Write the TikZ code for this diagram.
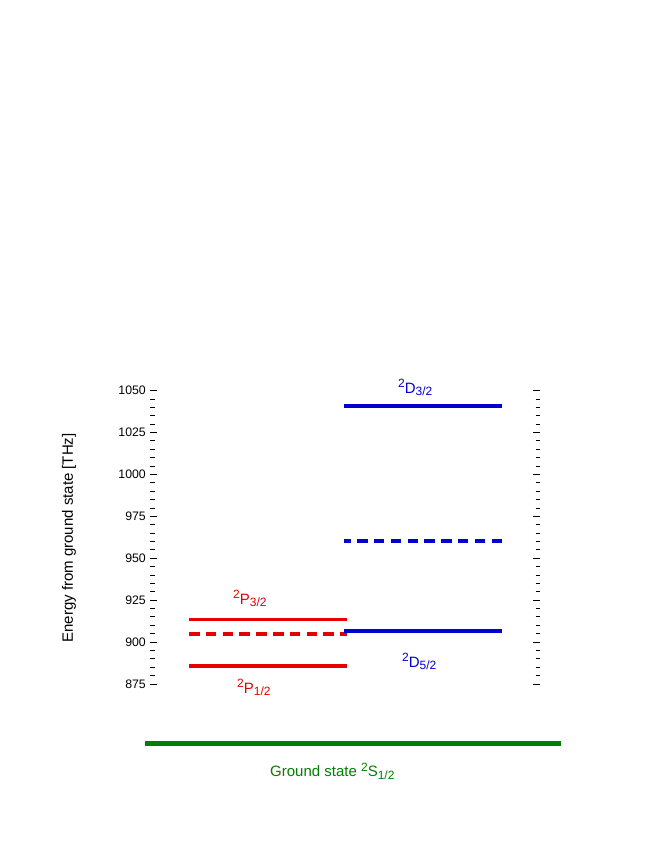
\documentclass[tikz,border=0pt]{standalone}
\usepackage{fontspec}
\setmainfont{Liberation Sans}
\definecolor{lvred}{RGB}{228,0,0}
\definecolor{lvblue}{RGB}{0,0,210}
\definecolor{lvgreen}{RGB}{0,128,0}
\newcommand\mysup[1]{\raisebox{5.5bp}{\fontsize{12bp}{12bp}\selectfont #1}}
\newcommand\mysub[1]{\raisebox{-2.5bp}{\fontsize{12bp}{12bp}\selectfont #1}}
\begin{document}
\begin{tikzpicture}[x=1bp,y=-1bp,
  level/.style={line width=3.6bp},
  dlevel/.style={line width=3.3bp, dash pattern=on 10.5bp off 6.3bp},
  tickline/.style={line width=1bp, black},
  ticklab/.style={anchor=east, inner sep=0pt, font=\fontsize{12.3bp}{14bp}\selectfont},
  lab/.style={anchor=base west, inner sep=0pt, font=\fontsize{15bp}{17bp}\selectfont}]
\useasboundingbox (0,0) rectangle (654,846);
% ticks
\foreach \i in {0,...,35}{
  \pgfmathsetmacro\yy{684-\i*5*1.676}
  \pgfmathtruncatemacro\m{mod(\i,5)}
  \ifnum\m=0
    \draw[tickline] (150,\yy) -- (157,\yy);
    \draw[tickline] (533,\yy) -- (540,\yy);
  \else
    \draw[tickline] (150,\yy) -- (154.5,\yy);
    \draw[tickline] (535.5,\yy) -- (540,\yy);
  \fi
}
\foreach \v [count=\k from 0] in {875,900,925,950,975,1000,1025,1050}{
  \node[ticklab] (tl\v) at (146,684-\k*25*1.676) {\v};
}
% axis label
\node[rotate=90, inner sep=0pt, font=\fontsize{15bp}{17bp}\selectfont] (ylab) at (69,538) {Energy from ground state [THz]};
% levels
\coordinate (p32a) at (189,619.3); \coordinate (p32b) at (347,619.3);
\coordinate (pda) at (189,634);  \coordinate (pdb) at (347,634);
\coordinate (p12a) at (189,665.7); \coordinate (p12b) at (347,665.7);
\coordinate (d32a) at (344,405.7); \coordinate (d32b) at (502,405.7);
\coordinate (dda) at (344,541);  \coordinate (ddb) at (502,541);
\coordinate (d52a) at (344,630.7); \coordinate (d52b) at (502,630.7);
\coordinate (ga) at (145,743.5); \coordinate (gb) at (561,743.5);
\draw[level, lvred] (p32a) -- (p32b);
\draw[dlevel, lvred] (pda) -- (pdb);
\draw[level, lvred] (p12a) -- (p12b);
\draw[level, lvblue] (d32a) -- (d32b);
\draw[dlevel, lvblue] (ddb) -- (dda);
\draw[level, lvblue] (d52a) -- (d52b);
\draw[line width=5bp, lvgreen] (ga) -- (gb);
% labels
\node[lab, text=lvred] (lp32) at (233,604) {\mysup{2}P\mysub{3/2}};
\node[lab, text=lvred] (lp12) at (237,693) {\mysup{2}P\mysub{1/2}};
\node[lab, text=lvblue] (ld32) at (398,393) {\mysup{2}D\mysub{3/2}};
\node[lab, text=lvblue] (ld52) at (402,667) {\mysup{2}D\mysub{5/2}};
\node[lab, text=lvgreen] (lg) at (270,776.5) {Ground state \mysup{2}S\mysub{1/2}};
\end{tikzpicture}
\end{document}
